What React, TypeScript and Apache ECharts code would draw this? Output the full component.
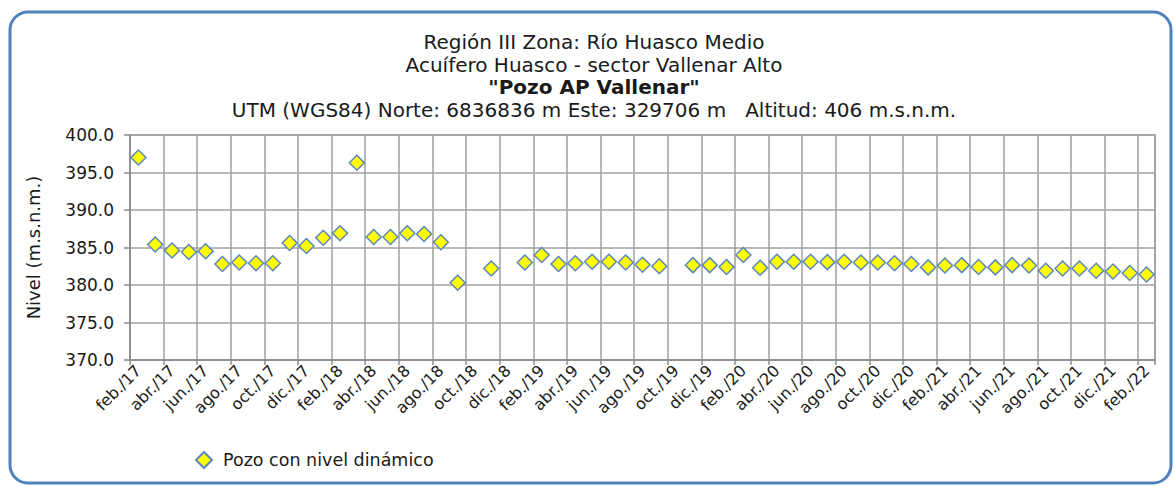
import React, { useEffect, useRef } from "react";
import * as echarts from "echarts";

const categories = [
  "feb./17", "mar./17", "abr./17", "may./17", "jun./17", "jul./17", "ago./17", "sep./17", "oct./17", "nov./17", "dic./17",
  "ene./18", "feb./18", "mar./18", "abr./18", "may./18", "jun./18", "jul./18", "ago./18", "sep./18", "oct./18", "nov./18", "dic./18",
  "ene./19", "feb./19", "mar./19", "abr./19", "may./19", "jun./19", "jul./19", "ago./19", "sep./19", "oct./19", "nov./19", "dic./19",
  "ene./20", "feb./20", "mar./20", "abr./20", "may./20", "jun./20", "jul./20", "ago./20", "sep./20", "oct./20", "nov./20", "dic./20",
  "ene./21", "feb./21", "mar./21", "abr./21", "may./21", "jun./21", "jul./21", "ago./21", "sep./21", "oct./21", "nov./21", "dic./21",
  "ene./22", "feb./22",
];

const nivelDinamico: (number | null)[] = [
  397.0, 385.4, 384.6, 384.4, 384.5, 382.8, 383.0, 382.9, 382.9, 385.6, 385.2,
  386.3, 386.9, 396.3, 386.4, 386.4, 386.9, 386.8, 385.7, 380.3, null, 382.2, null,
  383.0, 384.0, 382.8, 382.9, 383.1, 383.1, 383.0, 382.7, 382.5, null, 382.65, 382.65,
  382.4, 384.0, 382.3, 383.1, 383.1, 383.1, 383.05, 383.1, 383.0, 383.0, 382.9, 382.8,
  382.35, 382.6, 382.65, 382.4, 382.35, 382.65, 382.6, 381.9, 382.2, 382.2, 381.9, 381.8,
  381.6, 381.4,
];

const titleLines = [
  "Región III Zona: Río Huasco Medio",
  "Acuífero Huasco - sector Vallenar Alto",
  "\"Pozo AP Vallenar\"",
  "UTM (WGS84) Norte: 6836836 m Este: 329706 m   Altitud: 406 m.s.n.m.",
];

const yAxisName = "Nivel (m.s.n.m.)";
const seriesName = "Pozo con nivel dinámico";

const FONT = "'DejaVu Sans', Verdana, sans-serif";

export default function App() {
  const ref = useRef<HTMLDivElement>(null);

  useEffect(() => {
    if (!ref.current) return;
    const chart = echarts.init(ref.current, null, { renderer: "svg" });
    const titleY = [42, 64.5, 87, 110];
    chart.setOption({
      animation: false,
      backgroundColor: "#ffffff",
      textStyle: { fontFamily: FONT },
      graphic: [
        {
          type: "rect",
          shape: { x: 10, y: 12, width: 1161, height: 471, r: 18 },
          style: { fill: "none", stroke: "#4f81bd", lineWidth: 3 },
          silent: true,
        },
        ...titleLines.map((t, i) => ({
          type: "text",
          x: 594,
          y: titleY[i],
          style: {
            text: t,
            font: (i === 2 ? "bold " : "") + "20px " + FONT,
            fill: "#1a1a1a",
            textAlign: "center",
            textVerticalAlign: "middle",
          },
        })),
      ],
      legend: {
        left: 190,
        top: 446,
        itemWidth: 16,
        itemHeight: 16,
        itemGap: 10,
        textStyle: { fontSize: 17.5, color: "#1a1a1a", fontFamily: FONT, padding: [0, 0, 0, 6] },
        data: [{ name: seriesName, icon: "diamond" }],
      },
      grid: {
        left: 130,
        right: 18,
        top: 135,
        bottom: 126,
        containLabel: false,
        outerBoundsMode: "none",
        show: true,
        borderColor: "#999999",
        borderWidth: 1.5,
      },
      xAxis: {
        type: "category",
        data: categories,
        boundaryGap: true,
        axisLine: { lineStyle: { color: "#8c8c8c", width: 1.5 } },
        axisTick: { show: true, interval: 1, length: 5, lineStyle: { color: "#8c8c8c", width: 1.5 } },
        splitLine: { show: true, interval: 1, lineStyle: { color: "#a0a0a0", width: 1.5 } },
        axisLabel: {
          interval: 1,
          rotate: 45,
          fontSize: 16,
          color: "#1a1a1a",
          fontFamily: FONT,
          margin: 8,
        },
      },
      yAxis: {
        type: "value",
        min: 370,
        max: 400,
        interval: 5,
        name: yAxisName,
        nameLocation: "middle",
        nameGap: 88,
        nameRotate: 90,
        nameTextStyle: { fontSize: 18, color: "#1a1a1a", fontFamily: FONT },
        axisLine: { show: true, lineStyle: { color: "#8c8c8c", width: 1.5 } },
        axisTick: { show: true, length: 6, lineStyle: { color: "#8c8c8c", width: 1.5 } },
        splitLine: { show: true, lineStyle: { color: "#a0a0a0", width: 1.5 } },
        axisLabel: {
          fontSize: 17,
          color: "#1a1a1a",
          fontFamily: FONT,
          margin: 16,
          formatter: (v: number) => v.toFixed(1),
        },
      },
      series: [
        {
          name: seriesName,
          type: "scatter",
          data: nivelDinamico,
          symbol: "diamond",
          symbolSize: 15,
          itemStyle: { color: "#ffff00", borderColor: "#5b87c0", borderWidth: 1.5, opacity: 1 },
        },
      ],
    });
    return () => chart.dispose();
  }, []);

  return (
    <div
      ref={ref}
      style={{ position: "fixed", left: 0, top: 0, width: 1173, height: 486 }}
    />
  );
}
